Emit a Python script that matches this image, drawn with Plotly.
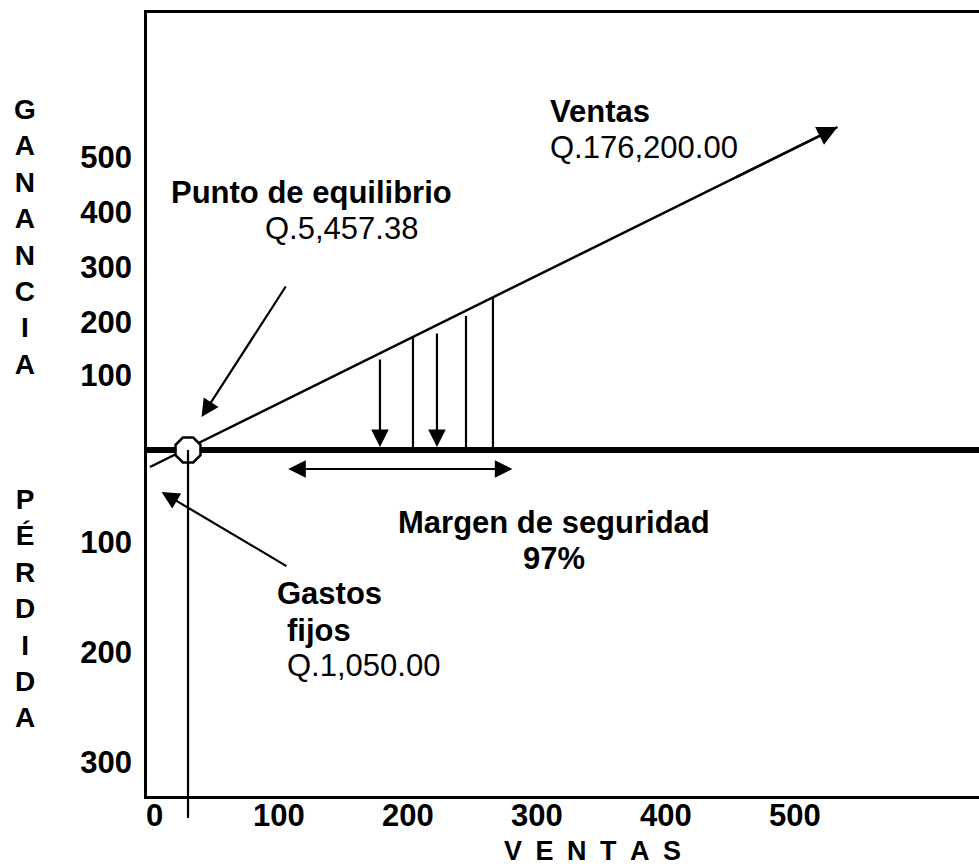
import plotly.graph_objects as go

# ---------------- data ----------------
x_ticks = [0, 100, 200, 300, 400, 500]
x_tick_labels = ["0", "100", "200", "300", "400", "500"]

ganancia_labels = ["100", "200", "300", "400", "500"]
ganancia_vals = [75, 128, 183, 238, 293]
perdida_labels = ["100", "200", "300"]
perdida_vals = [-92, -202, -312]

ventas_x = [0, 533]
ventas_y = [-17, 323]

equilibrio_x = 29.5
equilibrio_y = 0

margen_x = [178.3, 203.9, 222.5, 245.0, 265.9]
margen_top = [92, 113, 118, 134, 152]
margen_arrow = [True, False, True, False, False]
margen_rango_x = [106, 281]
margen_rango_y = -19

flecha_equilibrio = {"tail": (106, 165), "tip": (40, 33)}
flecha_gastos = {"tail": (107, -117), "tip": (9, -42)}

# ---------------- figure ----------------
X_RANGE = [-2.3, 642.7]
Y_RANGE = [-346, 437]
FAM = "Arial, Liberation Sans, sans-serif"
BLACK = "black"
FS = 31

fig = go.Figure()

# sales line
fig.add_trace(go.Scatter(x=ventas_x, y=ventas_y, mode="lines",
                         line=dict(color=BLACK, width=2.5), hoverinfo="skip",
                         showlegend=False))

# plain vertical lines of the safety margin
vx, vy = [], []
for x, t, a in zip(margen_x, margen_top, margen_arrow):
    if not a:
        vx += [x, x, None]
        vy += [t, 0, None]
fig.add_trace(go.Scatter(x=vx, y=vy, mode="lines",
                         line=dict(color=BLACK, width=2.2), hoverinfo="skip",
                         showlegend=False))

annotations = []
# arrow vertical lines
for x, t, a in zip(margen_x, margen_top, margen_arrow):
    if a:
        annotations.append(dict(x=x, y=3, ax=x, ay=t, xref="x", yref="y",
                                axref="x", ayref="y", text="", showarrow=True,
                                arrowhead=2, arrowsize=1.6, arrowwidth=2.2,
                                arrowcolor=BLACK))

# arrow head of sales line
sx0 = ventas_x[0] + 0.85 * (ventas_x[1] - ventas_x[0])
sy0 = ventas_y[0] + 0.85 * (ventas_y[1] - ventas_y[0])
annotations.append(dict(x=ventas_x[1], y=ventas_y[1], ax=sx0, ay=sy0,
                        xref="x", yref="y", axref="x", ayref="y", text="",
                        showarrow=True, arrowhead=2, arrowsize=1.6,
                        arrowwidth=2.5, arrowcolor=BLACK))

# double arrow safety margin
annotations.append(dict(x=margen_rango_x[1], y=margen_rango_y,
                        ax=margen_rango_x[0], ay=margen_rango_y,
                        xref="x", yref="y", axref="x", ayref="y", text="",
                        showarrow=True, arrowhead=2, arrowside="end+start",
                        arrowsize=1.6, arrowwidth=2.2, arrowcolor=BLACK))

# pointer arrows
for f in (flecha_equilibrio, flecha_gastos):
    annotations.append(dict(x=f["tip"][0], y=f["tip"][1], ax=f["tail"][0],
                            ay=f["tail"][1], xref="x", yref="y", axref="x",
                            ayref="y", text="", showarrow=True, arrowhead=2,
                            arrowsize=1.6, arrowwidth=2.2, arrowcolor=BLACK))


def txt(x, y, s, bold=False, size=FS, xanchor="center", xref="x", yref="y",
        yshift=0, xshift=0):
    annotations.append(dict(x=x, y=y, xref=xref, yref=yref,
                            text=(f"<b>{s}</b>" if bold else s),
                            showarrow=False, xanchor=xanchor, yanchor="middle",
                            yshift=yshift, xshift=xshift,
                            font=dict(family=FAM, size=size, color=BLACK)))


txt(125, 258, "Punto de equilibrio", bold=True)
txt(148.5, 222, "Q.5,457.38")
txt(308.5, 339, "Ventas", bold=True, xanchor="left")
txt(308.5, 303, "Q.176,200.00", xanchor="left")
txt(313, -72, "Margen de seguridad", bold=True)
txt(313, -108, "97%", bold=True)
txt(97, -143, "Gastos", bold=True, xanchor="left")
txt(104.7, -180, "fijos", bold=True, xanchor="left")
txt(104.7, -215, "Q.1,050.00", xanchor="left")

# vertical axis words
txt(-0.147, 213.5, "<br>".join("GANANCIA"), bold=True, size=28, xref="paper")
txt(-0.147, -158, "<br>".join("PÉRDIDA"), bold=True, size=28, xref="paper")

# x tick labels (placed just under the axis line)
for v, lab in zip(x_ticks, x_tick_labels):
    txt(v, 0, lab, bold=True, yref="paper", yshift=-19,
        xshift=(5 if v == 0 else 0))

# horizontal axis title
annotations.append(dict(x=343.4, y=0, xref="x", yref="paper", yshift=-55,
                        text="<b>" + "\u2002".join("VENTAS") + "</b>",
                        showarrow=False, xanchor="center", yanchor="middle",
                        font=dict(family=FAM, size=27, color=BLACK)))

# break-even vertical line (goes below the x axis)
y_paper_eq = (equilibrio_y - Y_RANGE[0]) / (Y_RANGE[1] - Y_RANGE[0])
fig.add_shape(type="line", xref="x", yref="paper", x0=equilibrio_x,
              x1=equilibrio_x, y0=y_paper_eq, y1=-0.028,
              line=dict(color=BLACK, width=2.2), layer="above")

# break-even circle
fig.add_trace(go.Scatter(x=[equilibrio_x], y=[equilibrio_y], mode="markers",
                         marker=dict(symbol="octagon", size=27, color="white",
                                     line=dict(color=BLACK, width=2.5)),
                         cliponaxis=False, hoverinfo="skip", showlegend=False))

fig.update_layout(
    width=979, height=867,
    margin=dict(l=147, r=0, t=13, b=71),
    paper_bgcolor="white", plot_bgcolor="white",
    annotations=annotations,
    showlegend=False,
    xaxis=dict(range=X_RANGE, showgrid=False, zeroline=False,
               showline=True, linecolor=BLACK, linewidth=2.5, mirror=True,
               showticklabels=False, ticks=""),
    yaxis=dict(range=Y_RANGE, showgrid=False, zeroline=True,
               zerolinecolor=BLACK, zerolinewidth=6,
               showline=True, linecolor=BLACK, linewidth=2.5, mirror=False,
               tickvals=ganancia_vals + perdida_vals,
               ticktext=[f"<b>{t}</b>" for t in ganancia_labels + perdida_labels],
               ticks="", tickfont=dict(family=FAM, size=FS, color=BLACK),
               ticklabelstandoff=6),
)

fig.write_html(
    "out.html",
    config={"displayModeBar": False},
    post_script="document.body.style.margin='0';document.body.style.overflow='hidden';",
)
